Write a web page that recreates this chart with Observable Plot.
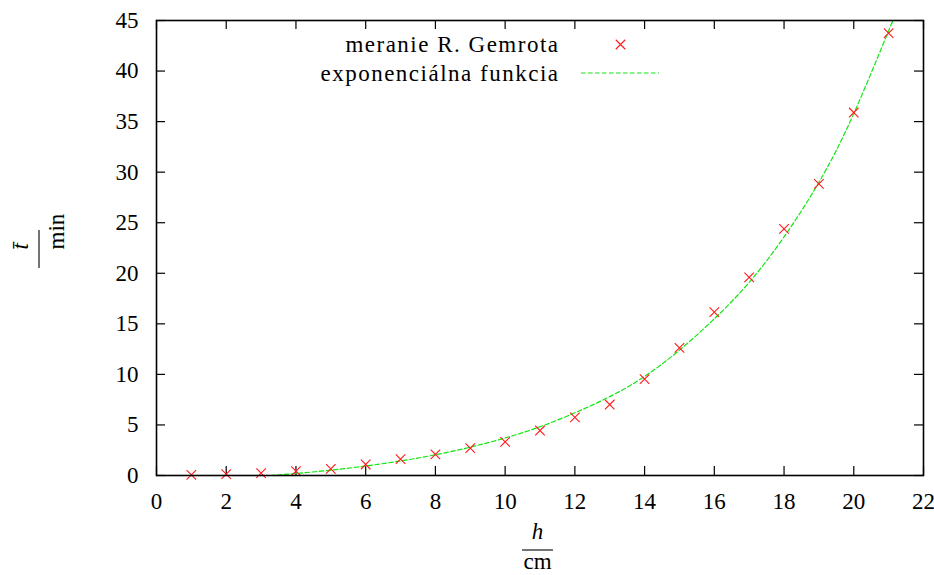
<!DOCTYPE html>
<html>
<head>
<meta charset="utf-8">
<script src="https://cdn.jsdelivr.net/npm/d3@7"></script>
<script src="https://cdn.jsdelivr.net/npm/@observablehq/plot@0.6"></script>
<style>
  html, body { margin: 0; padding: 0; background: #fff; }
</style>
</head>
<body>
<div id="chart"></div>
<script>
// measured values (R. Gemrot)
const measH = [1, 2, 3, 4, 5, 6, 7, 8, 9, 10, 11, 12, 13, 14, 15, 16, 17, 18, 19, 20, 21];
const measT = [0.07, 0.13, 0.23, 0.43, 0.66, 1.09, 1.61, 2.08, 2.7, 3.33, 4.45, 5.74, 7.02, 9.53, 12.63, 16.15, 19.6, 24.4, 28.85, 35.9, 43.75];
// exponential fit curve
const fitH = [3.27, 4, 5, 6, 7, 8, 9, 10, 11, 12, 13, 14, 15, 16, 17, 18, 19, 20, 21, 21.08];
const fitT = [0, 0.2, 0.53, 0.94, 1.44, 2.05, 2.8, 3.71, 4.82, 6.2, 7.8, 9.8, 12.4, 15.5, 19.1, 23.6, 29.0, 35.8, 44.0, 44.6];
const xTicks = [0, 2, 4, 6, 8, 10, 12, 14, 16, 18, 20, 22];
const yTicks = [0, 5, 10, 15, 20, 25, 30, 35, 40, 45];
const legendLabels = ["meranie R. Gemrota", "exponenciálna funkcia"];

const meas = measH.map((h, i) => ({h, t: measT[i]}));
const fit = fitH.map((h, i) => ({h, t: fitT[i]}));

const W = 934, H = 575;
const mL = 156, mR = 11, mT = 20, mB = 100;
const fw = W - mL - mR, fh = H - mT - mB;
const tl = 9;

const svg = Plot.plot({
  width: W, height: H,
  marginLeft: mL, marginRight: mR, marginTop: mT, marginBottom: mB,
  style: {fontFamily: "'Liberation Serif', serif", fontSize: "23px", background: "white", color: "black"},
  x: {domain: [0, 22]},
  y: {domain: [0, 45]},
  marks: [
    Plot.axisX({ticks: xTicks, tickSize: 0, tickPadding: 17, tickFormat: d => String(d), label: null}),
    Plot.axisY({ticks: yTicks, tickSize: 0, tickPadding: 18, tickFormat: d => String(d), label: null}),
    // inward ticks on all four sides
    Plot.tickX(xTicks, {x: d => d, insetTop: fh - tl, stroke: "black", strokeWidth: 1.2}),
    Plot.tickX(xTicks, {x: d => d, insetBottom: fh - tl, stroke: "black", strokeWidth: 1.2}),
    Plot.tickY(yTicks, {y: d => d, insetRight: fw - tl, stroke: "black", strokeWidth: 1.2}),
    Plot.tickY(yTicks, {y: d => d, insetLeft: fw - tl, stroke: "black", strokeWidth: 1.2}),
    Plot.line(fit, {x: "h", y: "t", stroke: "#11e611", strokeWidth: 1.2, strokeDasharray: "4.5,2.5", curve: "natural", clip: true}),
    Plot.dot(meas, {x: "h", y: "t", symbol: "times", r: 4.4, stroke: "#ff1a1a", strokeWidth: 1.1}),
    Plot.frame({stroke: "black", strokeWidth: 1.6}),
    // legend
    Plot.text([legendLabels[0]], {text: d => d, frameAnchor: "top-left", dx: 403, dy: 24, textAnchor: "end", lineAnchor: "middle", fill: "black"}),
    Plot.text([legendLabels[1]], {text: d => d, frameAnchor: "top-left", dx: 403, dy: 53, textAnchor: "end", lineAnchor: "middle", fill: "black"}),
    Plot.dot([0], {frameAnchor: "top-left", dx: 464, dy: 24, symbol: "times", r: 4.4, stroke: "#ff1a1a", strokeWidth: 1.1}),
    // axis labels
    Plot.text(["h"], {text: d => d, frameAnchor: "bottom", dx: -2.5, dy: 56, fontStyle: "italic", lineAnchor: "middle", fill: "black"}),
    Plot.text(["cm"], {text: d => d, frameAnchor: "bottom", dx: -2.5, dy: 86, lineAnchor: "middle", fill: "black"}),
    Plot.text(["t\u0304"], {text: d => d, frameAnchor: "left", dx: -136, dy: 1.5, rotate: -90, fontStyle: "italic", lineAnchor: "middle", fill: "black"}),
    Plot.text(["min"], {text: d => d, frameAnchor: "left", dx: -100, dy: 1.5, rotate: -90, lineAnchor: "middle", fill: "black"})
  ]
});

const s = d3.select(svg);
// widen legend text to match the reference's typeface metrics
s.selectAll("text").filter(function() { return legendLabels.includes(this.textContent); })
  .style("letter-spacing", "1.5px");
// legend dashed line sample
s.append("line").attr("x1", 581).attr("x2", 659).attr("y1", 73).attr("y2", 73)
  .attr("stroke", "#11e611").attr("stroke-width", 1.2).attr("stroke-dasharray", "4.5,2.5");
// fraction bars
s.append("line").attr("x1", 522).attr("x2", 553).attr("y1", 550).attr("y2", 550)
  .attr("stroke", "black").attr("stroke-width", 1.1);
s.append("line").attr("x1", 39).attr("x2", 39).attr("y1", 230).attr("y2", 268)
  .attr("stroke", "black").attr("stroke-width", 1.1);

document.getElementById("chart").appendChild(svg);
</script>
</body>
</html>
